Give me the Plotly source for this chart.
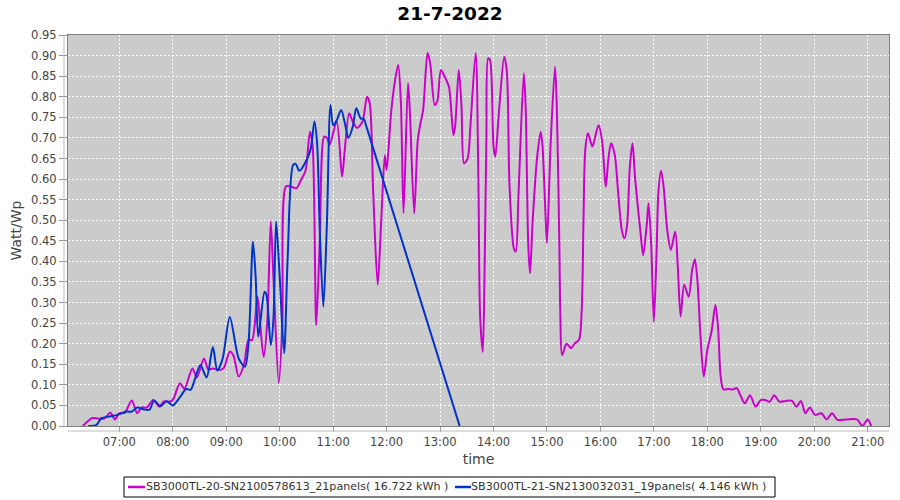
import plotly.graph_objects as go

DAY = "2022-07-21 "

# SB3000TL-20 (magenta)
t20 = ["06:19","06:25","06:29","06:36","06:43","06:50","06:55","07:00","07:06","07:14","07:20","07:25","07:31","07:38",
       "07:45","07:50","07:56","08:00","08:08","08:13","08:22","08:27","08:35","08:40","08:45","08:51","08:57","09:04",
       "09:08","09:14","09:20","09:25","09:29","09:35","09:38","09:42","09:46","09:50","09:53","09:59","10:03","10:07",
       "10:12","10:19","10:24","10:29","10:34","10:37","10:41","10:45","10:50","10:53","10:56","11:04","11:10","11:13",
       "11:18","11:22","11:27","11:33","11:38","11:41","11:45","11:50","11:54","11:58","12:00","12:05","12:09","12:13",
       "12:16","12:19","12:24","12:26","12:31","12:35","12:38","12:41","12:46","12:49","12:54","12:57","13:01","13:06",
       "13:10","13:15","13:17","13:21","13:24","13:27","13:31","13:34","13:40","13:43","13:45","13:48","13:50","13:52",
       "13:54","13:56","14:00","14:02","14:06","14:12","14:15","14:18","14:23","14:25","14:28","14:34","14:36","14:39",
       "14:41","14:44","14:49","14:53","14:55","14:58","15:00","15:04","15:09","15:11","15:14","15:15","15:17","15:22",
       "15:27","15:31","15:36","15:39","15:41","15:43","15:46","15:51","15:55","15:58","16:02","16:06","16:09","16:12",
       "16:16","16:20","16:24","16:27","16:30","16:33","16:36","16:39","16:45","16:48","16:52","16:54","16:57","17:00",
       "17:03","17:05","17:08","17:11","17:15","17:19","17:24","17:27","17:30","17:34","17:39","17:43","17:46","17:49",
       "17:52","17:56","18:00","18:05","18:09","18:12","18:15","18:18","18:24","18:29","18:33","18:37","18:42","18:48",
       "18:54","19:00","19:05","19:10","19:15","19:21","19:28","19:35","19:40","19:45","19:50","19:55","20:01","20:08",
       "20:14","20:20","20:26","20:36","20:48","20:54","21:00","21:04"]
v20 = [0.000,0.012,0.019,0.018,0.018,0.032,0.016,0.031,0.032,0.062,0.031,0.045,0.045,0.063,
       0.047,0.060,0.059,0.063,0.104,0.090,0.140,0.118,0.164,0.137,0.140,0.136,0.140,0.181,
       0.172,0.120,0.150,0.209,0.209,0.314,0.250,0.168,0.250,0.497,0.360,0.104,0.250,0.582,
       0.582,0.578,0.598,0.620,0.715,0.680,0.245,0.450,0.703,0.700,0.683,0.740,0.606,0.670,
       0.760,0.740,0.724,0.740,0.800,0.785,0.566,0.343,0.500,0.658,0.622,0.760,0.833,0.877,
       0.790,0.517,0.833,0.770,0.517,0.695,0.735,0.768,0.906,0.880,0.780,0.790,0.865,0.845,
       0.824,0.707,0.730,0.865,0.780,0.638,0.650,0.727,0.906,0.600,0.266,0.180,0.380,0.700,
       0.893,0.890,0.679,0.654,0.760,0.897,0.860,0.581,0.430,0.424,0.560,0.857,0.780,0.440,
       0.371,0.500,0.654,0.715,0.680,0.533,0.444,0.680,0.873,0.780,0.425,0.274,0.172,0.200,
       0.189,0.200,0.210,0.282,0.500,0.671,0.711,0.679,0.711,0.731,0.690,0.581,0.650,0.687,
       0.660,0.565,0.476,0.456,0.490,0.630,0.687,0.600,0.470,0.415,0.490,0.541,0.440,0.253,
       0.420,0.565,0.620,0.580,0.476,0.428,0.472,0.380,0.266,0.343,0.314,0.380,0.405,0.350,
       0.230,0.120,0.185,0.233,0.294,0.240,0.120,0.089,0.090,0.089,0.092,0.075,0.055,0.075,
       0.047,0.063,0.063,0.059,0.075,0.059,0.061,0.061,0.047,0.061,0.031,0.045,0.027,0.031,
       0.016,0.031,0.015,0.016,0.016,0.000,0.016,0.000]

# SB3000TL-21 (blue)
t21 = ["06:25","06:34","06:40","06:49","06:58","07:08","07:14","07:20","07:28","07:34","07:39","07:46","07:53","08:00",
       "08:08","08:15","08:20","08:25","08:31","08:38","08:45","08:50","08:56","09:04","09:14","09:21","09:25","09:30",
       "09:33","09:36","09:43","09:45","09:50","09:53","09:56","10:00","10:05","10:09","10:15","10:18","10:22","10:31",
       "10:35","10:39","10:42","10:45","10:49","10:53","10:57","11:00","11:04","11:09","11:14","11:17","11:22","11:26",
       "11:31","11:34","11:38","13:22"]
v21 = [0.000,0.002,0.019,0.023,0.027,0.035,0.035,0.045,0.040,0.040,0.062,0.048,0.060,0.050,
       0.070,0.090,0.088,0.115,0.148,0.118,0.192,0.135,0.164,0.265,0.164,0.144,0.200,0.448,
       0.363,0.217,0.326,0.320,0.197,0.260,0.497,0.363,0.177,0.411,0.634,0.637,0.620,0.650,
       0.675,0.740,0.687,0.476,0.290,0.493,0.780,0.731,0.743,0.768,0.727,0.700,0.727,0.772,
       0.747,0.747,0.723,0.000]

names = ["SB3000TL-20-SN2100578613_21panels( 16.722 kWh )",
         "SB3000TL-21-SN2130032031_19panels( 4.146 kWh )"]
colors = ["#cc00cc", "#0033cc"]
title = "21-7-2022"

fig = go.Figure()
for t, v, n, c in [(t20, v20, names[0], colors[0]), (t21, v21, names[1], colors[1])]:
    fig.add_trace(go.Scatter(x=[DAY + s for s in t], y=v, name=n, mode="lines",
                             line=dict(color=c, width=2, shape="spline", smoothing=0.8)))

font = "DejaVu Sans"
PW, PH, L, T = 821, 391, 68, 35  # plot area in pixels


def px(x):
    return (x - L) / PW


def py(y):
    return (T + PH - y) / PH


fig.update_layout(
    width=900, height=500,
    margin=dict(l=68, r=11, t=35, b=74, autoexpand=False),
    paper_bgcolor="white", plot_bgcolor="#cbcbcb",
    font=dict(family=font, size=11.5, color="#444"),
    title=dict(text="<b>" + title + "</b>", x=0.5, xanchor="center", y=0.972, yanchor="middle",
               font=dict(family=font, size=18.5, color="black")),
    showlegend=False,
)
fig.update_xaxes(
    type="date",
    range=[DAY + "06:02:24", DAY + "21:23:54"],
    tick0=DAY + "07:00", dtick=3600000, tickformat="%H:%M",
    ticks="outside", ticklen=5, tickcolor="#999",
    showgrid=True, gridcolor="white", griddash="2px,2px", gridwidth=1,
    showline=True, linecolor="#808080", linewidth=1, mirror=True,
    zeroline=False,
    title=dict(text="time", standoff=6, font=dict(family=font, size=14, color="#444")),
)
fig.update_yaxes(
    range=[0, 0.95], dtick=0.05, tick0=0, tickformat=".2f",
    ticks="outside", ticklen=8, tickcolor="#999",
    showgrid=True, gridcolor="white", griddash="2px,2px", gridwidth=1,
    showline=True, linecolor="#808080", linewidth=1, mirror=True,
    zeroline=False,
    title=dict(text="Watt/Wp", standoff=6, font=dict(family=font, size=14, color="#444")),
)
# offset axis lines (JFreeChart style)
fig.add_shape(type="line", xref="paper", yref="paper", x0=px(64), x1=px(64), y0=0, y1=1,
              line=dict(color="#bbbbbb", width=1))
fig.add_shape(type="line", xref="paper", yref="paper", x0=0, x1=1, y0=py(431), y1=py(431),
              line=dict(color="#bbbbbb", width=1))

# legend box drawn in the bottom margin
fig.add_shape(type="rect", xref="paper", yref="paper", x0=px(124), x1=px(775), y0=py(497), y1=py(477),
              line=dict(color="black", width=1), fillcolor="white", layer="above")
for (x0, x1, xt), n, c in [((128, 145, 144), names[0], colors[0]), ((455, 471, 469), names[1], colors[1])]:
    fig.add_shape(type="line", xref="paper", yref="paper", x0=px(x0), x1=px(x1), y0=py(487), y1=py(487),
                  line=dict(color=c, width=2.5), layer="above")
    fig.add_annotation(text=n, xref="paper", yref="paper", x=px(xt), y=py(487), xanchor="left",
                       yanchor="middle", showarrow=False,
                       font=dict(family=font, size=11.1, color="#333"))

fig.write_html("out.html", config={"displayModeBar": False},
               post_script="document.body.style.margin='0';")
